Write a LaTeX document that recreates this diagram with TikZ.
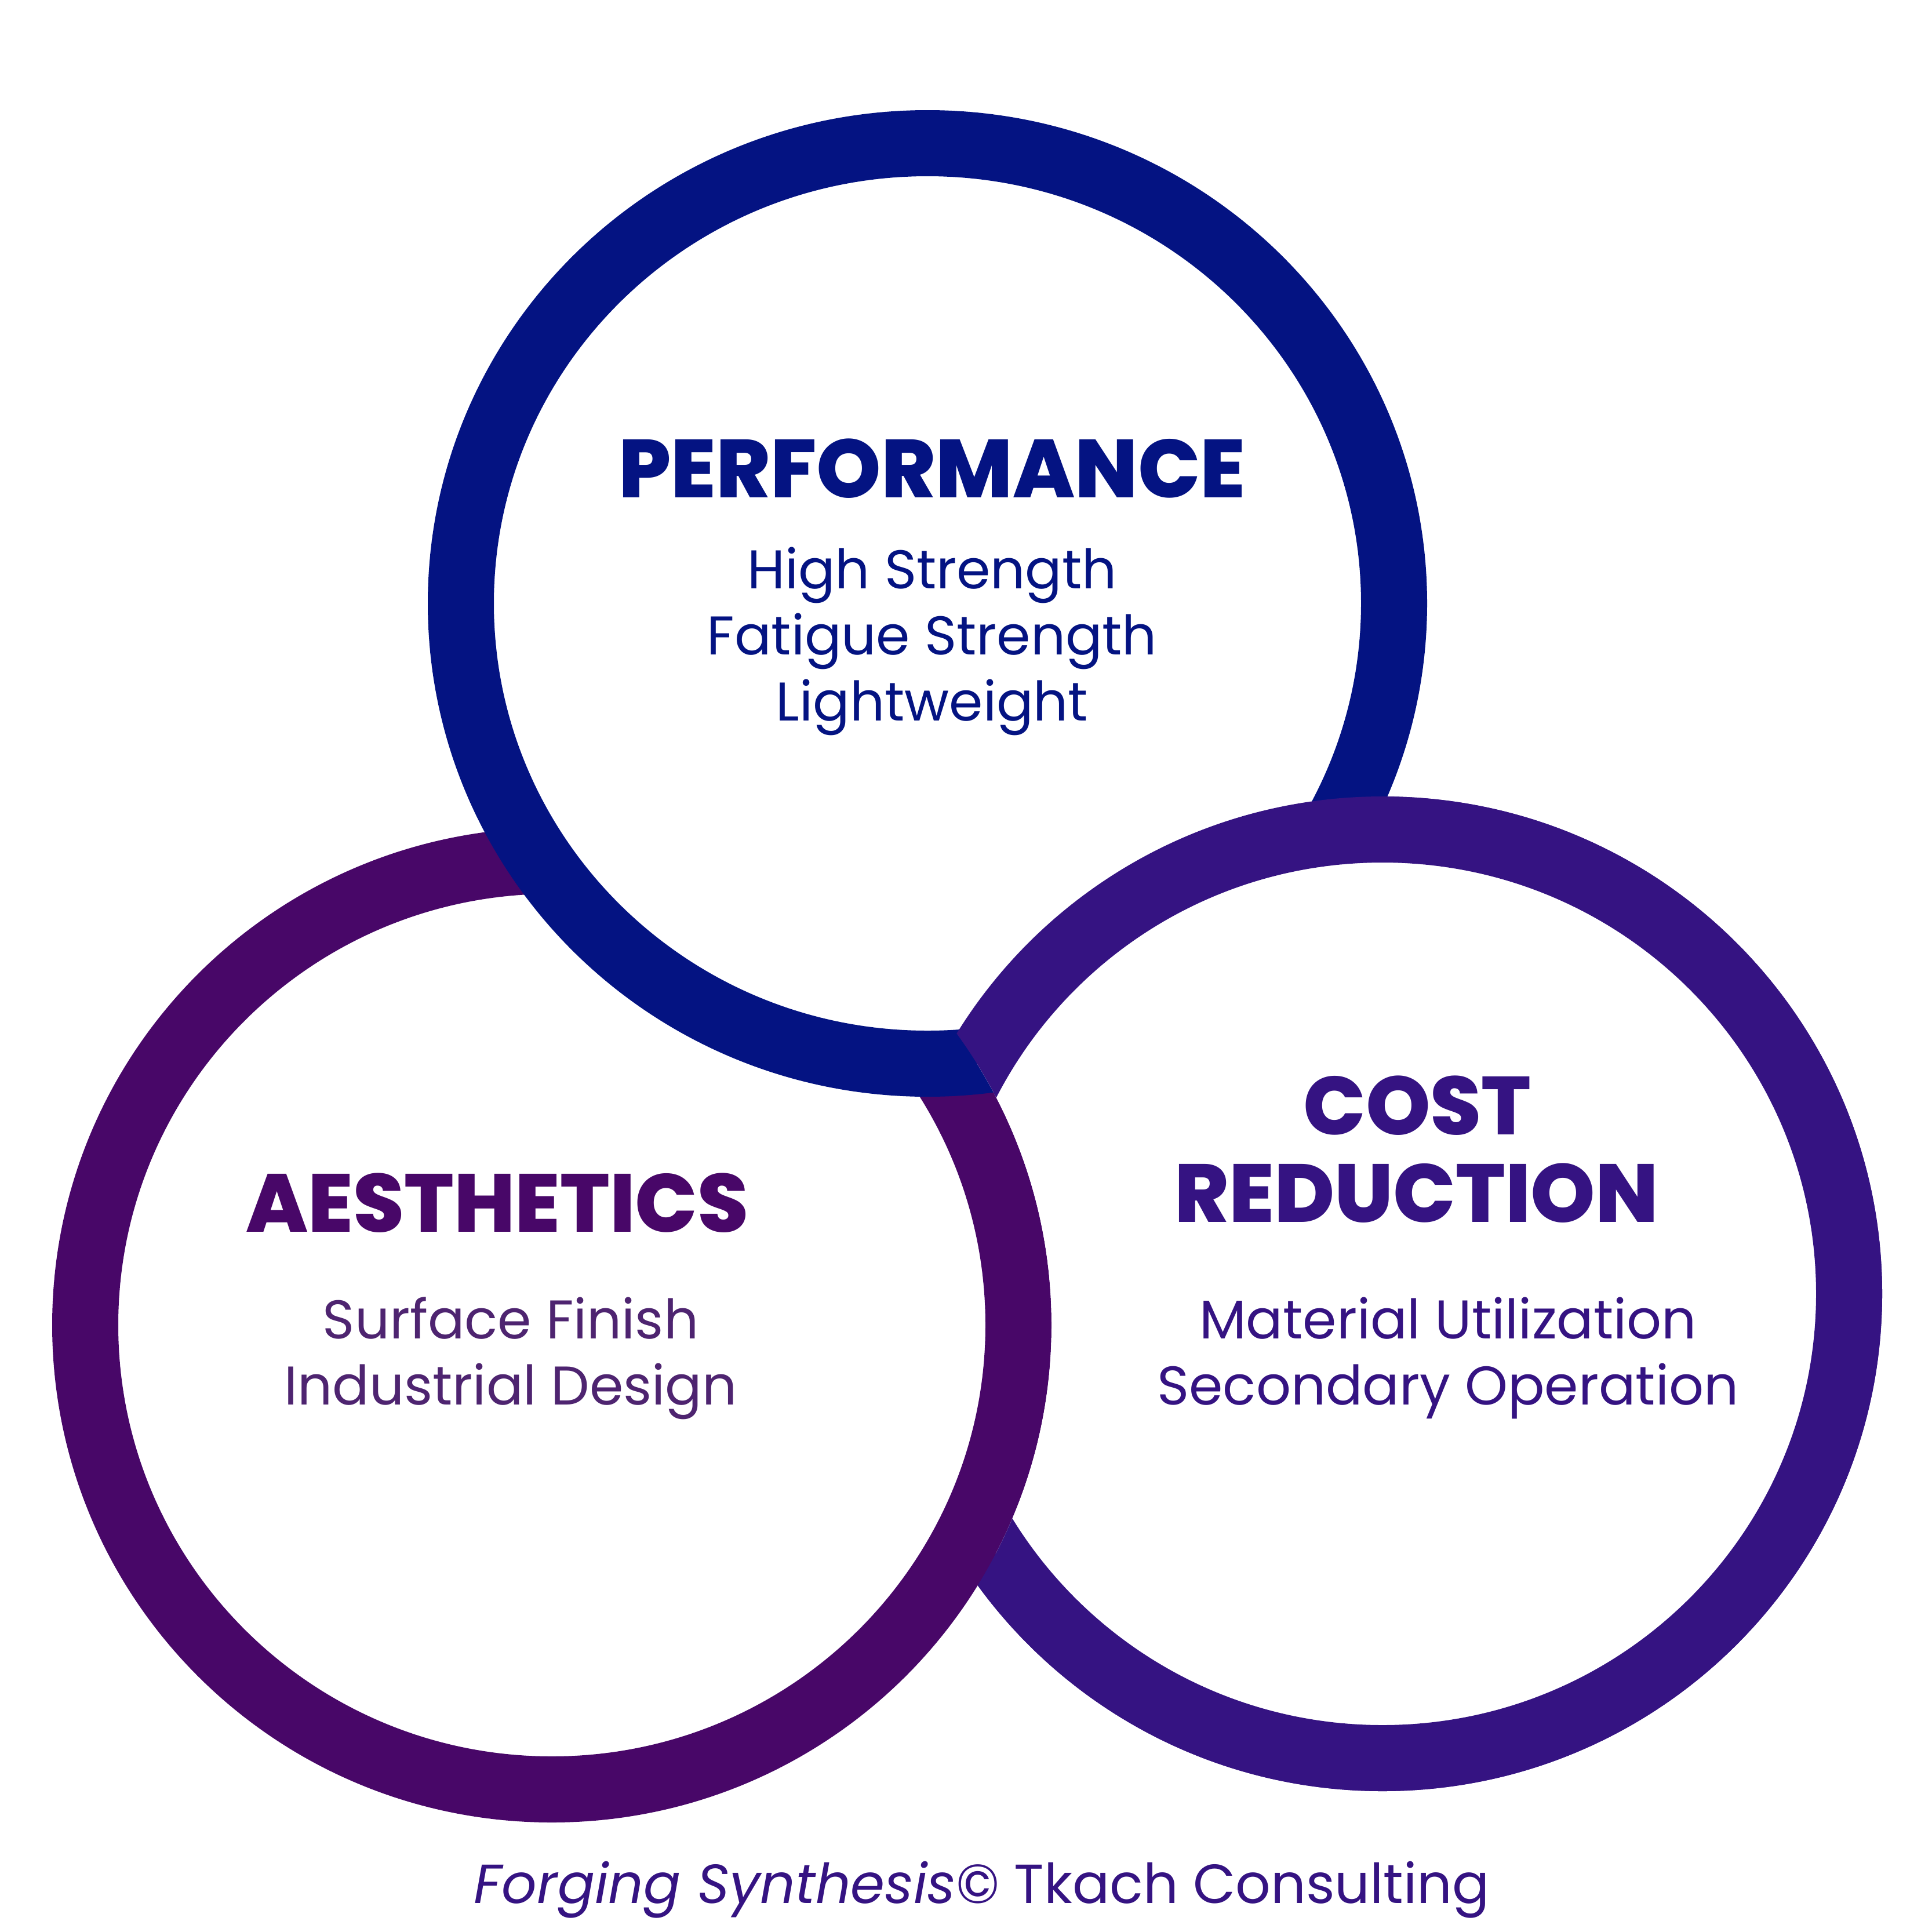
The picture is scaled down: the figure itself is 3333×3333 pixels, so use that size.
\documentclass[tikz,border=0pt]{standalone}
\usepackage{fontspec}
\setmainfont{Poppins}
\newfontfamily\heavyfont{Poppins ExtraBold}
\definecolor{perf}{RGB}{4,19,130}
\definecolor{aes}{RGB}{72,7,104}
\definecolor{aestext}{RGB}{78,36,112}
\definecolor{cost}{RGB}{53,19,130}
\tikzset{
  ring/.style={line width=114pt},
  title/.style={font=\fontsize{142}{150}\selectfont\heavyfont, anchor=base, inner sep=0pt},
  body/.style={font=\fontsize{94}{110}\selectfont, anchor=base, inner sep=0pt},
}
\begin{document}
\begin{tikzpicture}[x=1pt,y=-1pt]
\useasboundingbox (0,0) rectangle (3333,3333);
\coordinate (cp) at (1600,1041);
\coordinate (ca) at (952,2286);
\coordinate (cc) at (2385,2232);
% cost circle
\fill[white] (cc) ellipse [x radius=805, y radius=801];
\draw[ring, cost] (cc) ellipse [x radius=805, y radius=801];
% aesthetics circle
\fill[white] (ca) ellipse [x radius=805, y radius=801];
\draw[ring, aes] (ca) ellipse [x radius=805, y radius=801];
% performance circle
\fill[white] (cp) ellipse [x radius=805, y radius=794];
\draw[ring, perf] (cp) ellipse [x radius=805, y radius=794];
% cost circle again, outside aesthetics disk
\begin{scope}[even odd rule]
\clip (-100,-100) rectangle (3433,3433) (ca) ellipse [x radius=862, y radius=858];
\fill[white] (cc) ellipse [x radius=805, y radius=801];
\draw[ring, cost] (cc) ellipse [x radius=805, y radius=801];
\end{scope}
% texts
\node[title, text=perf] (pt) at (1608,858) {PERFORMANCE};
\node[body, text=perf] (p1) at (1608,1015) {High Strength};
\node[body, text=perf] (p2) at (1608,1129) {Fatigue Strength};
\node[body, text=perf] (p3) at (1608,1243) {Lightweight};
\node[title, text=aes] (at) at (858,2125) {AESTHETICS};
\node[body, text=aestext] (a1) at (881,2309) {Surface Finish};
\node[body, text=aestext] (a2) at (881,2423) {Industrial Design};
\node[title, text=cost] (ct1) at (2445,1957) {COST};
\node[title, text=cost] (ct2) at (2444,2108) {REDUCTION};
\node[body, text=cost] (c1) at (2498,2309) {Material Utilization};
\node[body, text=cost] (c2) at (2498,2423) {Secondary Operation};
\node[body, text=cost, font=\fontsize{95}{110}\selectfont] (ft) at (1694,3283) {{\itshape Forging Synthesis}© Tkach Consulting};
\end{tikzpicture}
\end{document}
